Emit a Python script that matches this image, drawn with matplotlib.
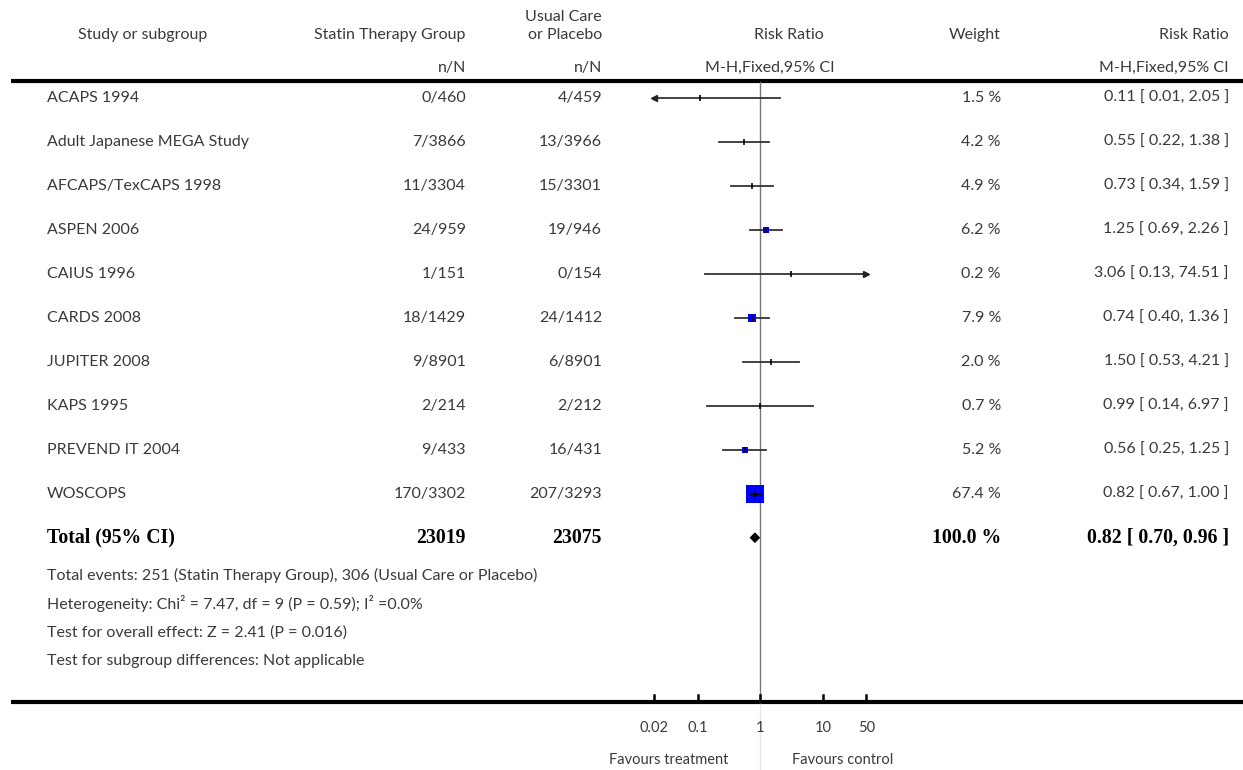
import numpy as np
import matplotlib.pyplot as plt
from matplotlib.patches import Polygon

# --- data ---
studies = ["ACAPS 1994", "Adult Japanese MEGA Study", "AFCAPS/TexCAPS 1998", "ASPEN 2006",
           "CAIUS 1996", "CARDS 2008", "JUPITER 2008", "KAPS 1995", "PREVEND IT 2004", "WOSCOPS"]
statin_events = ["0/460", "7/3866", "11/3304", "24/959", "1/151", "18/1429", "9/8901", "2/214", "9/433", "170/3302"]
control_events = ["4/459", "13/3966", "15/3301", "19/946", "0/154", "24/1412", "6/8901", "2/212", "16/431", "207/3293"]
weights = [1.5, 4.2, 4.9, 6.2, 0.2, 7.9, 2.0, 0.7, 5.2, 67.4]
rr = [0.11, 0.55, 0.73, 1.25, 3.06, 0.74, 1.50, 0.99, 0.56, 0.82]
ci_low = [0.01, 0.22, 0.34, 0.69, 0.13, 0.40, 0.53, 0.14, 0.25, 0.67]
ci_high = [2.05, 1.38, 1.59, 2.26, 74.51, 1.36, 4.21, 6.97, 1.25, 1.00]

total_statin = 23019
total_control = 23075
total_weight = 100.0
total_rr, total_low, total_high = 0.82, 0.70, 0.96

footnotes = ["Total events: 251 (Statin Therapy Group), 306 (Usual Care or Placebo)",
             "Heterogeneity: Chi² = 7.47, df = 9 (P = 0.59); I² =0.0%",
             "Test for overall effect: Z = 2.41 (P = 0.016)",
             "Test for subgroup differences: Not applicable"]

axis_ticks = [0.02, 0.1, 1, 10, 50]
axis_labels = ["0.02", "0.1", "1", "10", "50"]
clip_lo, clip_hi = 0.02, 50

# --- layout (pixels) ---
W, H = 1243, 770
row0, row_step = 97.7, 44.0
axis_y = 702
font = "Lato"
fs = 11.5
tc = "#3a3a3a"

fig = plt.figure(figsize=(W / 100, H / 100), dpi=100)
tax = fig.add_axes([0, 0, 1, 1])
tax.set_xlim(0, W)
tax.set_ylim(H, 0)
tax.axis("off")

# forest panel: log x, pixel y
x_one = 760.3
decade = 62.5
fax = fig.add_axes([(x_one - 2 * decade) / W, 0, 4 * decade / W, 1])
fax.set_xscale("log")
fax.set_xlim(0.01, 100)
fax.set_ylim(H, 0)
fax.axis("off")

def txt(x, y, s, ha="left", **kw):
    kw.setdefault("fontsize", fs)
    kw.setdefault("family", font)
    kw.setdefault("color", tc)
    tax.text(x, y, s, ha=ha, va="center", **kw)

# header
txt(143, 35, "Study or subgroup", ha="center")
txt(466, 35, "Statin Therapy Group", ha="right")
txt(602, 17, "Usual Care", ha="right")
txt(602, 35, "or Placebo", ha="right")
txt(466, 68, "n/N", ha="right")
txt(602, 68, "n/N", ha="right")
txt(789, 35, "Risk Ratio", ha="center")
txt(770, 68, "M-H,Fixed,95% CI", ha="center")
txt(1001, 35, "Weight", ha="right")
txt(1229, 35, "Risk Ratio", ha="right")
txt(1229, 68, "M-H,Fixed,95% CI", ha="right")
tax.plot([11, W], [81, 81], color="black", lw=3, solid_capstyle="butt")

# study rows
for i, name in enumerate(studies):
    y = row0 + i * row_step
    txt(47, y, name)
    txt(466, y, statin_events[i], ha="right")
    txt(602, y, control_events[i], ha="right")
    txt(1001, y, f"{weights[i]:.1f} %", ha="right")
    txt(1229, y, f"{rr[i]:.2f} [ {ci_low[i]:.2f}, {ci_high[i]:.2f} ]", ha="right")

    lo = max(ci_low[i], clip_lo)
    hi = min(ci_high[i], clip_hi)
    fax.plot([lo, hi], [y, y], color="#333333", lw=1.3, zorder=2)
    if ci_low[i] < clip_lo:
        fax.plot(lo, y, marker="<", color="#222222", ms=4, zorder=3)
    if ci_high[i] > clip_hi:
        fax.plot(hi, y, marker=">", color="#222222", ms=4, zorder=3)
    if weights[i] >= 5:
        side = (2.2 + 1.92 * np.sqrt(weights[i])) * 0.72
        fax.plot(rr[i], y, marker="s", ms=side, color="#0000ff", mec="#0000ff", mew=0, zorder=4)
    fax.plot(rr[i], y, marker="|", ms=5, mew=1.2, color="black", zorder=5)
    if weights[i] >= 50:
        fax.plot(rr[i], y, marker="_", ms=8, mew=1.0, color="black", zorder=5)

# total row
yt = row0 + len(studies) * row_step
bold = dict(family="Liberation Serif", fontweight="bold", fontsize=14.2, color="black")
txt(47, yt, "Total (95% CI)", **bold)
txt(466, yt, f"{total_statin}", ha="right", **bold)
txt(602, yt, f"{total_control}", ha="right", **bold)
txt(1001, yt, f"{total_weight:.1f} %", ha="right", **bold)
txt(1229, yt, f"{total_rr:.2f} [ {total_low:.2f}, {total_high:.2f} ]", ha="right", **bold)
fax.add_patch(Polygon([[total_low, yt], [total_rr, yt - 4.5], [total_high, yt], [total_rr, yt + 4.5]],
                      closed=True, color="black", zorder=5))

# footnotes
for k, note in enumerate(footnotes):
    txt(47, 575 + k * 28.7, note)

# line of no effect
fax.plot([1, 1], [82, axis_y], color="#777777", lw=1.0, zorder=1)
fax.plot([1, 1], [axis_y, H], color="#e6e6e6", lw=1.0, zorder=1)

# bottom axis
tax.plot([11, W], [axis_y, axis_y], color="black", lw=3, solid_capstyle="butt")
small = dict(family=font, fontsize=10.5, color="#3a3a3a")
for t, lab in zip(axis_ticks, axis_labels):
    fax.plot([t, t], [axis_y - 7, axis_y], color="black", lw=1.8)
    fax.text(t, 728, lab, ha="center", va="center", **small)
fax.text(0.304, 760, "Favours treatment", ha="right", va="center", **small)
fax.text(3.2, 760, "Favours control", ha="left", va="center", **small)

fig.savefig("out.png", dpi=100)
